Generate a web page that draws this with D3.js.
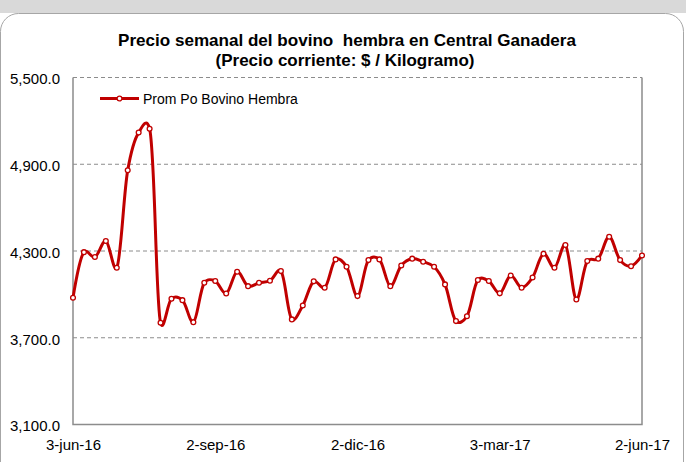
<!DOCTYPE html>
<meta charset="utf-8">
<script src="https://cdnjs.cloudflare.com/ajax/libs/d3/7.8.5/d3.min.js"></script>
<style>
  body { margin: 0; background: #fff; }
  text { font-family: "Liberation Sans", Arial, sans-serif; fill: #000; }
</style>
<body>
<script>

var width = 686
var height = 462

// weekly dates (Friday) and average price, $ / kg
var dates = ["2016-06-03","2016-06-10","2016-06-17","2016-06-24","2016-07-01","2016-07-08","2016-07-15","2016-07-22","2016-07-29",
  "2016-08-05","2016-08-12","2016-08-19","2016-08-26","2016-09-02","2016-09-09","2016-09-16","2016-09-23","2016-09-30",
  "2016-10-07","2016-10-14","2016-10-21","2016-10-28","2016-11-04","2016-11-11","2016-11-18","2016-11-25","2016-12-02",
  "2016-12-09","2016-12-16","2016-12-23","2016-12-30","2017-01-06","2017-01-13","2017-01-20","2017-01-27","2017-02-03",
  "2017-02-10","2017-02-17","2017-02-24","2017-03-03","2017-03-10","2017-03-17","2017-03-24","2017-03-31","2017-04-07",
  "2017-04-14","2017-04-21","2017-04-28","2017-05-05","2017-05-12","2017-05-19","2017-05-26","2017-06-02"]
var prices = [3977, 4292, 4258, 4369, 4184, 4858, 5119, 5146, 3804, 3970, 3960, 3808, 4080,
  4092, 4006, 4157, 4057, 4080, 4094, 4161, 3827, 3923, 4090, 4046, 4242, 4191, 3988,
  4237, 4242, 4057, 4200, 4247, 4226, 4191, 4069, 3815, 3849, 4099, 4092, 4007, 4131,
  4046, 4117, 4281, 4184, 4341, 3965, 4230, 4247, 4399, 4237, 4195, 4269]
var yTicks = [3100, 3700, 4300, 4900, 5500]
var xTicks = ["2016-06-03", "2016-09-02", "2016-12-02", "2017-03-03", "2017-06-02"]
var monthNames = ["ene","feb","mar","abr","may","jun","jul","ago","sep","oct","nov","dic"]
var seriesName = "Prom Po Bovino Hembra"
var title1 = "Precio semanal del bovino  hembra en Central Ganadera"
var title2 = "(Precio corriente: $ / Kilogramo)"

var parse = d3.utcParse("%Y-%m-%d")
var data = dates.map(function(d, i) { return { date: parse(d), value: prices[i] } })

var plotLeft = 73, plotRight = 642, plotTop = 77.5, plotBottom = 424.5

var x = d3.scaleUtc().domain([parse(dates[0]), parse(dates[dates.length - 1])]).range([plotLeft, plotRight])
var y = d3.scaleLinear().domain([3100, 5500]).range([plotBottom, plotTop])

var svg = d3.select("body").append("svg")
            .attr("width", width)
            .attr("height", height)
            .style("display", "block")

// gray band and rounded card
svg.append("rect").attr("x", 0).attr("y", 0).attr("width", width).attr("height", 13).attr("fill", "#d9d9d9")
svg.append("rect").attr("x", 0.5).attr("y", 13.5).attr("width", 683).attr("height", 480)
   .attr("rx", 18).attr("ry", 18).attr("fill", "#fff").attr("stroke", "#a6a6a6").attr("stroke-width", 1)

// title
svg.append("text").attr("x", 347).attr("y", 46).attr("text-anchor", "middle")
   .attr("textLength", 458).attr("lengthAdjust", "spacingAndGlyphs")
   .style("white-space", "pre").style("font-size", "16.5px").style("font-weight", "bold").text(title1)
svg.append("text").attr("x", 345).attr("y", 66).attr("text-anchor", "middle")
   .attr("textLength", 259).attr("lengthAdjust", "spacingAndGlyphs")
   .style("font-size", "16.5px").style("font-weight", "bold").text(title2)

// gridlines
svg.append("g").selectAll("line").data(yTicks.filter(function(d) { return d > 3100 }))
   .enter().append("line")
   .attr("x1", plotLeft).attr("x2", plotRight)
   .attr("y1", function(d) { return y(d) }).attr("y2", function(d) { return y(d) })
   .attr("stroke", "#8c8c8c").attr("stroke-width", 1).attr("stroke-dasharray", "4,3")

// axes frame
svg.append("path")
   .attr("d", "M" + plotLeft + "," + plotTop + "V" + plotBottom + "H" + plotRight + "V" + plotTop)
   .attr("fill", "none").attr("stroke", "#8c8c8c").attr("stroke-width", 1.5)

// y axis labels
var yAxis = d3.axisLeft(y).tickValues(yTicks).tickSize(0).tickPadding(13)
   .tickFormat(function(d) { return d3.format(",.1f")(d) })
var gy = svg.append("g").attr("transform", "translate(" + plotLeft + ",1.5)").call(yAxis)
gy.select(".domain").remove()
gy.selectAll("text").style("font-size", "15px").style("font-family", "Liberation Sans, Arial, sans-serif").attr("fill", "#000")

// x axis labels
var xAxis = d3.axisBottom(x).tickValues(xTicks.map(parse)).tickSize(0).tickPadding(15)
   .tickFormat(function(d) { return d.getUTCDate() + "-" + monthNames[d.getUTCMonth()] + "-" + String(d.getUTCFullYear()).slice(2) })
var gx = svg.append("g").attr("transform", "translate(0," + plotBottom + ")").call(xAxis)
gx.select(".domain").remove()
gx.selectAll("text").style("font-size", "15px").style("font-family", "Liberation Sans, Arial, sans-serif").attr("fill", "#000")

// series
var line = d3.line().x(function(d) { return x(d.date) }).y(function(d) { return y(d.value) }).curve(d3.curveCatmullRom.alpha(0.2))
svg.append("path").attr("d", line(data)).attr("fill", "none")
   .attr("stroke", "#c00000").attr("stroke-width", 3).attr("stroke-linejoin", "round")

svg.append("g").selectAll("circle").data(data).enter().append("circle")
   .attr("cx", function(d) { return x(d.date) }).attr("cy", function(d) { return y(d.value) })
   .attr("r", 2.4).attr("fill", "#fff").attr("stroke", "#c00000").attr("stroke-width", 1.3)

// legend
var lg = svg.append("g").attr("transform", "translate(100,98.5)")
lg.append("line").attr("x1", 0).attr("x2", 39).attr("stroke", "#c00000").attr("stroke-width", 3)
lg.append("circle").attr("cx", 19.5).attr("r", 2.4).attr("fill", "#fff").attr("stroke", "#c00000").attr("stroke-width", 1.3)
lg.append("text").attr("x", 43).attr("y", 5).style("font-size", "14px").text(seriesName)

</script>
</body>
